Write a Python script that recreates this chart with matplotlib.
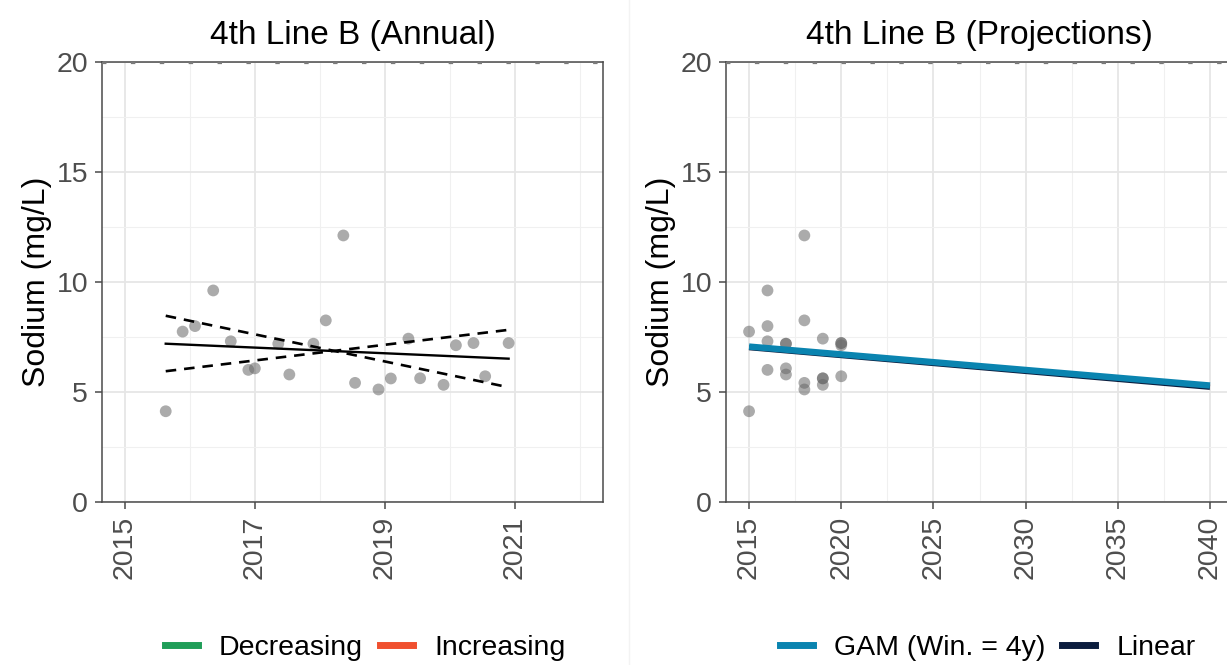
import numpy as np
import matplotlib
matplotlib.use("Agg")
import matplotlib.pyplot as plt
from matplotlib.lines import Line2D
from matplotlib.ticker import MultipleLocator

plt.rcParams["font.family"] = ["Liberation Sans", "DejaVu Sans"]

# Sodium samples (decimal year, mg/L)
sample_dates = [2015.63, 2015.89, 2016.08, 2016.36, 2016.63, 2016.90, 2017.00,
                2017.36, 2017.53, 2017.90, 2018.09, 2018.36, 2018.54, 2018.90,
                2019.09, 2019.36, 2019.54, 2019.90, 2020.09, 2020.36, 2020.54,
                2020.90]
sodium = [4.11, 7.73, 7.98, 9.60, 7.29, 5.99, 6.06,
          7.18, 5.78, 7.18, 8.24, 12.10, 5.40, 5.10,
          5.60, 7.41, 5.61, 5.31, 7.11, 7.21, 5.70,
          7.21]

# Sen slope trend and its confidence bounds (start / end of record)
trend_x = [2015.63, 2020.90]
trend_mid = [7.18, 6.50]
trend_upper = [8.45, 5.20]
trend_lower = [5.93, 7.81]

# Projections
proj_years = [2015, 2040]
gam_proj = [7.05, 5.28]
linear_proj = [7.00, 5.20]

threshold = 20

annual_ticks = [2015, 2017, 2019, 2021]
proj_ticks = [2015, 2020, 2025, 2030, 2035, 2040]
y_ticks = [0, 5, 10, 15, 20]

col_decreasing = "#1f9e58"
col_increasing = "#f0502f"
col_gam = "#0a84b0"
col_linear = "#0b1d3e"
point_col = "#666666"

fig = plt.figure(figsize=(12.27, 6.65), dpi=100)

ax1 = fig.add_axes([0.0831, 0.2456, 0.4083, 0.6617])
ax2 = fig.add_axes([0.5917, 0.2456, 0.4132, 0.6617])


def style(ax, title, xlim, ticks, minor_step):
    ax.set_ylim(0, 20)
    ax.set_xlim(*xlim)
    ax.set_yticks(y_ticks)
    ax.yaxis.set_minor_locator(MultipleLocator(2.5))
    ax.set_xticks(ticks)
    ax.set_xticklabels([str(t) for t in ticks], rotation=90)
    ax.xaxis.set_minor_locator(MultipleLocator(minor_step))
    ax.grid(True, which="major", color="#e6e6e6", lw=1.3)
    ax.grid(True, which="minor", color="#f0f0f0", lw=0.8)
    ax.set_axisbelow(True)
    for sp in ax.spines.values():
        sp.set_color("#4a4a4a")
        sp.set_linewidth(1.1)
    ax.tick_params(which="major", length=5, width=1.1, color="#4a4a4a",
                   labelsize=20.5, labelcolor="#4d4d4d", pad=5)
    ax.tick_params(which="minor", length=0)
    ax.set_ylabel("Sodium (mg/L)", fontsize=23, color="black", labelpad=3)
    ax.set_title(title, fontsize=24, pad=13)
    ax.axhline(threshold - 0.06, color="#7a7a7a", lw=1.6, dashes=(2, 11),
               zorder=3, clip_on=False)


style(ax1, "4th Line B (Annual)", (2014.65, 2022.35), annual_ticks, 1)
style(ax2, "4th Line B (Projections)", (2013.75, 2041.25), proj_ticks, 2.5)

# Annual panel
ax1.scatter(sample_dates, sodium, s=72, color=point_col, alpha=0.55,
            edgecolors="none", zorder=2)
ax1.plot(trend_x, trend_mid, color="black", lw=1.7, zorder=4)
ax1.plot(trend_x, trend_upper, color="black", lw=1.9, dashes=(4, 3), zorder=4)
ax1.plot(trend_x, trend_lower, color="black", lw=1.9, dashes=(4, 3), zorder=4)

# Projection panel
sample_years = np.floor(sample_dates)
ax2.scatter(sample_years, sodium, s=72, color=point_col, alpha=0.55,
            edgecolors="none", zorder=2)
ax2.plot(proj_years, linear_proj, color=col_linear, lw=3.8,
         solid_capstyle="butt", zorder=3)
ax2.plot(proj_years, gam_proj, color=col_gam, lw=4.6,
         solid_capstyle="butt", zorder=4)

# Legends
leg_kw = dict(loc="center", ncol=2, frameon=False, fontsize=20.5,
              handlelength=1.15, handletextpad=0.75, columnspacing=0.6)
h1 = [Line2D([], [], color=col_decreasing, lw=5),
      Line2D([], [], color=col_increasing, lw=5)]
fig.legend(h1, ["Decreasing", "Increasing"],
           bbox_to_anchor=(0.2975, 0.025), **leg_kw)
h2 = [Line2D([], [], color=col_gam, lw=5),
      Line2D([], [], color=col_linear, lw=5)]
fig.legend(h2, ["GAM (Win. = 4y)", "Linear"],
           bbox_to_anchor=(0.805, 0.025), **leg_kw)

# faint divider between the two panels
fig.add_artist(Line2D([0.513, 0.513], [0, 1], color="#f3f3f3", lw=1.0,
                      transform=fig.transFigure))

fig.savefig("out.png", dpi=100)
